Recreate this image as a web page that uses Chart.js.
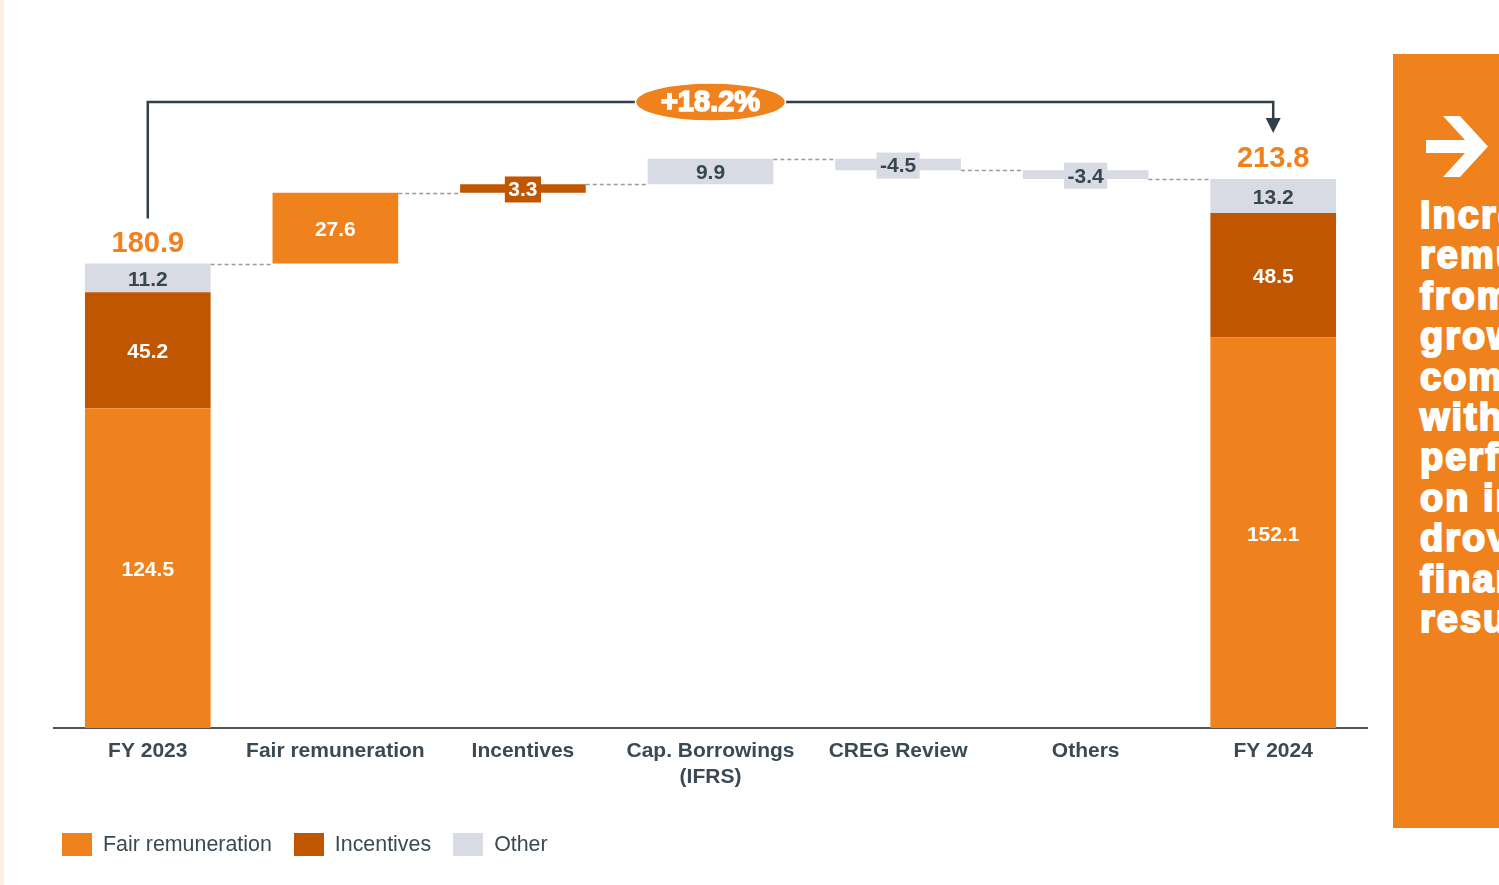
<!DOCTYPE html>
<html>
<head>
  <meta charset="UTF-8">
  <title>Remuneration bridge FY 2023 - FY 2024</title>
  <script src="https://cdn.jsdelivr.net/npm/chart.js"></script>
  <style>
    html, body { margin: 0; padding: 0; background: #fff; }
    body {
      width: 1499px; height: 885px; position: relative; overflow: hidden;
      font-family: "Liberation Sans", Arial, sans-serif;
    }
    .edge { position: absolute; left: 0; top: 0; width: 4px; height: 885px; background: #fdf0e3; }
    #wrap { position: absolute; left: 0; top: 0; width: 1390px; height: 885px; }
    .legend {
      position: absolute; left: 62px; top: 833px; display: flex; align-items: center;
      font-size: 21.4px; color: #3a4a54;
    }
    .legend .item { display: flex; align-items: center; margin-right: 22px; height: 23px; }
    .legend .box { width: 30px; height: 23px; margin-right: 11px; }
    .panel {
      position: absolute; left: 1393px; top: 54px; width: 106px; height: 774px;
      background: #f0821e; overflow: hidden;
    }
    .panel svg { position: absolute; left: 0; top: 0; }
    .panel .msg {
      position: absolute; left: 27px; top: 141px; color: #fff; font-weight: bold;
      font-size: 38px; line-height: 40.4px; white-space: nowrap; letter-spacing: 2px;
      -webkit-text-stroke: 2px #fff;
    }
  </style>
</head>
<body>
  <div class="edge"></div>
  <div id="wrap"><canvas id="bridge" width="1390" height="885"></canvas></div>

  <div class="legend" id="legend"></div>

  <div class="panel">
    <svg width="106" height="200">
      <polygon fill="#fff" points="33,86 72,86 50,62 67,62 95,92.5 67,123 50,123 72,99 33,99"/>
    </svg>
    <div class="msg">Increased<br>remuneration<br>from<br>growth<br>combined<br>with<br>performance<br>on incentives<br>drove<br>financial<br>results</div>
  </div>

  <script>
    const categories = ['FY 2023', 'Fair remuneration', 'Incentives', ['Cap. Borrowings', '(IFRS)'], 'CREG Review', 'Others', 'FY 2024'];
    const isTotal = [true, false, false, false, false, false, true];

    // contribution of each component per column (null = not present)
    const fairRem    = [124.5, 27.6, null, null, null, null, 152.1];
    const incentives = [45.2, null, 3.3, null, null, null, 48.5];
    const other      = [11.2, null, null, 9.9, -4.5, -3.4, 13.2];

    const seriesNames  = ['Fair remuneration', 'Incentives', 'Other'];
    const seriesColors = ['#f0821e', '#c05600', '#d8dbe3'];
    const labelColors  = ['#ffffff', '#ffffff', '#37474f'];
    const seriesValues = [fairRem, incentives, other];

    // turn the components into floating [start, end] ranges, totals start at 0
    const ranges = seriesValues.map(() => []);
    const levels = [];
    let running = 0;
    categories.forEach((c, i) => {
      let base = isTotal[i] ? 0 : running;
      seriesValues.forEach((vals, s) => {
        const v = vals[i];
        if (v === null) { ranges[s].push(null); return; }
        ranges[s].push([base, base + v]);
        base += v;
      });
      running = base;
      levels.push(base);
    });

    const FONT = '"Liberation Sans", Arial, sans-serif';

    const bridgeDecor = {
      id: 'bridgeDecor',
      afterDatasetsDraw(chart) {
        const { ctx, scales: { x, y } } = chart;

        // bar extents per column
        const extents = categories.map(() => ({ l: Infinity, r: -Infinity }));
        chart.data.datasets.forEach((ds, s) => {
          chart.getDatasetMeta(s).data.forEach((el, i) => {
            if (ds.data[i] === null) return;
            const p = el.getProps(['x', 'width'], true);
            extents[i].l = Math.min(extents[i].l, p.x - p.width / 2);
            extents[i].r = Math.max(extents[i].r, p.x + p.width / 2);
          });
        });

        // dashed connectors between columns
        ctx.save();
        ctx.strokeStyle = '#9a9a9a';
        ctx.lineWidth = 1.5;
        ctx.setLineDash([4, 3]);
        for (let i = 0; i < categories.length - 1; i++) {
          const yy = Math.round(y.getPixelForValue(levels[i])) + 0.5;
          ctx.beginPath();
          ctx.moveTo(extents[i].r, yy);
          ctx.lineTo(extents[i + 1].l, yy);
          ctx.stroke();
        }
        ctx.restore();

        // value labels
        ctx.save();
        ctx.textAlign = 'center';
        ctx.textBaseline = 'middle';
        ctx.font = 'bold 21px ' + FONT;
        chart.data.datasets.forEach((ds, s) => {
          chart.getDatasetMeta(s).data.forEach((el, i) => {
            const v = seriesValues[s][i];
            if (v === null) return;
            const p = el.getProps(['x', 'y', 'base'], true);
            const cy = (p.y + p.base) / 2 + 2;
            const txt = v.toFixed(1);
            if (Math.abs(v) < 6) {
              const w = ctx.measureText(txt).width + 7;
              ctx.fillStyle = seriesColors[s];
              ctx.fillRect(p.x - w / 2, cy - 14, w, 26);
            }
            ctx.fillStyle = labelColors[s];
            ctx.fillText(txt, p.x, cy);
          });
        });

        // totals above the first and last columns
        ctx.font = 'bold 29px ' + FONT;
        ctx.fillStyle = '#f0821e';
        categories.forEach((c, i) => {
          if (!isTotal[i]) return;
          ctx.fillText(levels[i].toFixed(1), x.getPixelForValue(i), y.getPixelForValue(levels[i]) - 20);
        });
        ctx.restore();

        // growth bracket
        const first = 0, last = categories.length - 1;
        const xl = x.getPixelForValue(first), xr = x.getPixelForValue(last);
        const top = chart.chartArea.top + 3;
        const yl = y.getPixelForValue(levels[first]) - 45;
        const tip = y.getPixelForValue(levels[last]) - 46;
        ctx.save();
        ctx.strokeStyle = '#333f48';
        ctx.fillStyle = '#333f48';
        ctx.lineWidth = 2.5;
        ctx.beginPath();
        ctx.moveTo(xl, yl);
        ctx.lineTo(xl, top);
        ctx.lineTo(xr, top);
        ctx.lineTo(xr, tip - 14);
        ctx.stroke();
        ctx.beginPath();
        ctx.moveTo(xr - 7.5, tip - 15);
        ctx.lineTo(xr + 7.5, tip - 15);
        ctx.lineTo(xr, tip);
        ctx.closePath();
        ctx.fill();

        const cx = (xl + xr) / 2;
        ctx.beginPath();
        ctx.ellipse(cx, top, 75, 19, 0, 0, Math.PI * 2);
        ctx.fillStyle = '#f0821e';
        ctx.fill();
        ctx.lineWidth = 1.5;
        ctx.strokeStyle = '#ffffff';
        ctx.stroke();

        const growth = (levels[last] / levels[first] - 1) * 100;
        ctx.font = 'bold 29px ' + FONT;
        ctx.textAlign = 'center';
        ctx.textBaseline = 'middle';
        ctx.fillStyle = '#ffffff';
        ctx.strokeStyle = '#ffffff';
        ctx.lineWidth = 1.6;
        const gt = '+' + growth.toFixed(1) + '%';
        ctx.strokeText(gt, cx, top + 1);
        ctx.fillText(gt, cx, top + 1);
        ctx.restore();
      }
    };

    new Chart(document.getElementById('bridge'), {
      type: 'bar',
      data: {
        labels: categories,
        datasets: seriesNames.map((name, s) => ({
          label: name,
          data: ranges[s],
          backgroundColor: seriesColors[s],
          borderWidth: 0,
          categoryPercentage: 1,
          barPercentage: 0.67
        }))
      },
      options: {
        responsive: false,
        animation: false,
        layout: { padding: { left: 54, right: 1390 - 1367, top: 99, bottom: 97 } },
        plugins: { legend: { display: false }, tooltip: { enabled: false } },
        scales: {
          x: {
            stacked: true,
            grid: { display: false, drawTicks: false },
            border: { display: true, color: '#4a555e', width: 2 },
            ticks: {
              color: '#3a4a54',
              font: { family: FONT, size: 21, weight: 'bold' },
              padding: 11,
              maxRotation: 0,
              autoSkip: false
            },
            afterFit(scale) { scale.height = 60; }
          },
          y: { display: false, min: 0, max: 245 }
        }
      },
      plugins: [bridgeDecor]
    });

    // legend
    const legend = document.getElementById('legend');
    seriesNames.forEach((name, s) => {
      const item = document.createElement('div');
      item.className = 'item';
      item.innerHTML = '<span class="box" style="background:' + seriesColors[s] + '"></span>' + name;
      legend.appendChild(item);
    });
  </script>
</body>
</html>
